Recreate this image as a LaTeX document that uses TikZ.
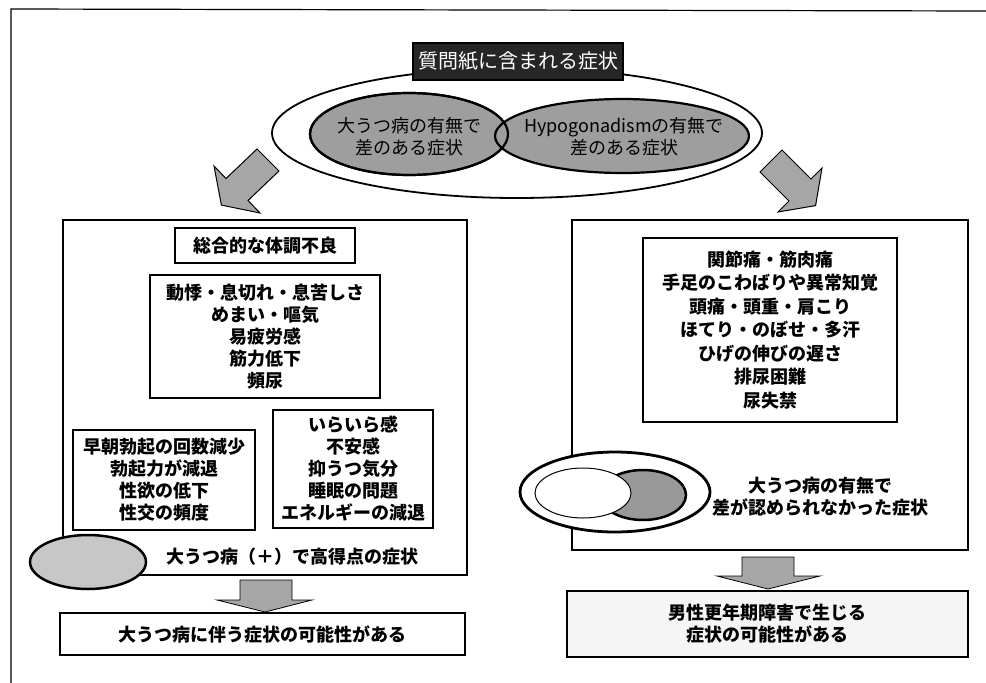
\documentclass[tikz,border=0pt]{standalone}
\usepackage{fontspec}
\setmainfont{Noto Sans CJK JP}
\usetikzlibrary{shapes.geometric}
\newcommand\mydiagfont{\fontsize{18}{22}\selectfont\bfseries}
\tikzset{
  frame/.style={line width=1.2pt},
  bx/.style={draw, line width=1.3pt, rectangle, inner sep=0pt, align=center, font=\mydiagfont},
  mainbox/.style={draw, line width=1.6pt, rectangle, inner sep=0pt},
  grayell/.style={draw, ellipse, line width=2.2pt, fill=black!38, inner sep=0pt},
  bigell/.style={draw, ellipse, line width=1.8pt, fill=white, inner sep=0pt},
  fat/.style={draw, line width=1pt, fill=black!35, line join=miter},
  lbl/.style={align=center, inner sep=0pt, font=\mydiagfont},
  toplbl/.style={align=center, inner sep=0pt, font=\fontsize{18}{22}\selectfont},
}
\begin{document}
\begin{tikzpicture}[x=1pt,y=-1pt]
\useasboundingbox (0,0) rectangle (986,683);
\fill[white] (0,0) rectangle (986,683);
% outer frame
\coordinate (fa) at (11,683); \coordinate (fb) at (11,9); \coordinate (fc) at (986,11);
\draw[frame] (fa) -- (fb) -- (fc);

% top: big ellipse with two overlapping ellipses
\node[bigell, minimum width=490pt, minimum height=130pt] (big) at (517,133) {};
\node[grayell, minimum width=198pt, minimum height=82pt] (e1) at (409,134) {};
\node[grayell, minimum width=254pt, minimum height=74pt] (e2) at (622,136) {};
\draw[line width=2.2pt] (e1.center) ellipse [x radius=99pt, y radius=41pt];
\node[toplbl] (t1) at (409,137) {大うつ病の有無で\\差のある症状};
\node[toplbl] (t2) at (624,137) {Hypogonadismの有無で\\差のある症状};
\node[draw, line width=1.2pt, fill=black!85, text=white, inner sep=0pt,
      minimum width=210pt, minimum height=37pt, font=\fontsize{20}{24}\selectfont] (title) at (518,61.5) {質問紙に含まれる症状};

% fat arrows
\filldraw[fat] (257,149) -- (279,171) -- (248,200.5) -- (260,213) -- (221.4,205.1) -- (214,166) -- (226,178.5) -- cycle;
\filldraw[fat] (782,150) -- (811,179) -- (822,168) -- (815.6,205.6) -- (778,212) -- (789,201) -- (760,172) -- cycle;

% left main box
\node[mainbox, minimum width=404pt, minimum height=355pt] (lbox) at (265,397.5) {};
\node[bx, minimum width=180pt, minimum height=35pt] (gen) at (265,245.5) {総合的な体調不良};
\node[bx, minimum width=230pt, minimum height=123pt] (phys) at (265,336.5) {動悸・息切れ・息苦しさ\\めまい・嘔気\\易疲労感\\筋力低下\\頻尿};
\node[bx, minimum width=182pt, minimum height=100pt] (sex) at (164,480) {早朝勃起の回数減少\\勃起力が減退\\性欲の低下\\性交の頻度};
\node[bx, minimum width=160pt, minimum height=118pt] (psy) at (353,469) {いらいら感\\不安感\\抑うつ気分\\睡眠の問題\\エネルギーの減退};
\node[draw, ellipse, line width=2.5pt, fill=black!22, inner sep=0pt, minimum width=116pt, minimum height=54pt] (lell) at (88,562) {};
\node[lbl] (ltxt) at (292,557) {大うつ病（＋）で高得点の症状};

% left down arrow
\filldraw[fat, line width=0.8pt] (240,580) -- (292,580) -- (292,600) -- (312,600) -- (265,612) -- (217,600) -- (240,600) -- cycle;
\node[bx, minimum width=405pt, minimum height=42pt] (lres) at (262.5,634) {大うつ病に伴う症状の可能性がある};

% right main box
\node[mainbox, minimum width=396pt, minimum height=330pt] (rbox) at (770,385) {};
\node[bx, minimum width=254pt, minimum height=184pt, font=\fontsize{18}{23.5}\selectfont\bfseries] (rlist) at (770,330) {関節痛・筋肉痛\\手足のこわばりや異常知覚\\頭痛・頭重・肩こり\\ほてり・のぼせ・多汗\\ひげの伸びの遅さ\\排尿困難\\尿失禁};
\node[draw, ellipse, line width=2.8pt, fill=white, inner sep=0pt, minimum width=190pt, minimum height=80pt] (rell) at (615,492) {};
\node[grayell, line width=2.5pt, fill=black!40, minimum width=86pt, minimum height=50pt] (rg) at (643,495) {};
\node[draw, ellipse, line width=1pt, fill=white, inner sep=0pt, minimum width=96pt, minimum height=50pt] (rw) at (583,493) {};
\node[lbl] (rtxt) at (820,497) {大うつ病の有無で\\差が認められなかった症状};

% right down arrow
\filldraw[fat, line width=0.8pt] (742,557) -- (794,557) -- (794,576) -- (820,576) -- (768,589) -- (717,576) -- (742,576) -- cycle;
\node[bx, fill=black!4, minimum width=401pt, minimum height=66pt] (rres) at (767.5,624) {男性更年期障害で生じる\\症状の可能性がある};
\end{tikzpicture}
\end{document}
